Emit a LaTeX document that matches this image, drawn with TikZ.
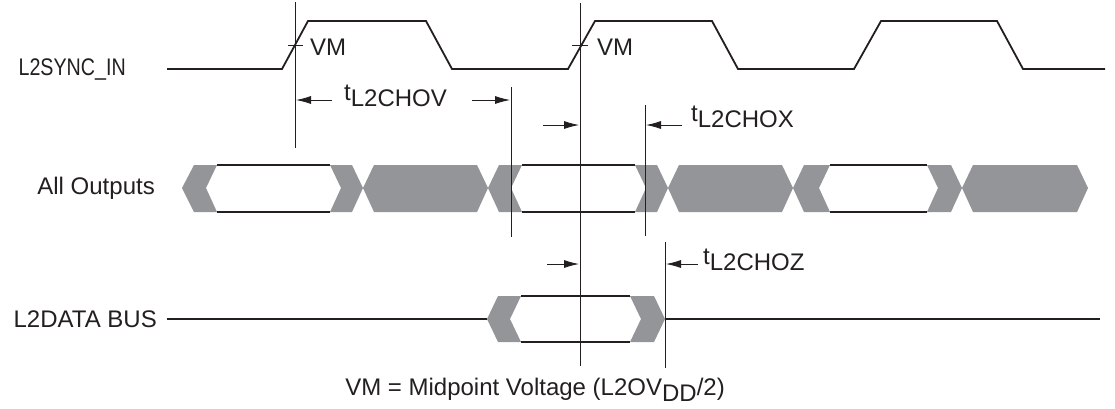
\documentclass[tikz,border=0pt]{standalone}
\usepackage{fontspec}
\setmainfont{Liberation Sans}
\usetikzlibrary{arrows.meta, positioning}
\definecolor{busgray}{RGB}{147,149,152}
\definecolor{ink}{RGB}{35,31,32}
\tikzset{
  sig/.style={draw=ink, line width=1.8pt, line join=miter},
  guide/.style={draw=ink, line width=0.8pt},
  dim/.style={draw=ink, line width=0.8pt, -{Latex[length=15pt,width=8pt]}},
  lbl/.style={font=\fontsize{24}{28}\selectfont, text=ink, inner sep=0pt},
  invalid/.style={fill=busgray, draw=none},
}
\newcommand{\tname}[1]{t\raisebox{-6pt}{#1}}

\begin{document}
\begin{tikzpicture}[x=1pt, y=-1pt]
\useasboundingbox (0,0) rectangle (1115,408);

% labels
\node[lbl, anchor=east] (syncLbl) at (126,70) {\scalebox{0.82}[1]{L2SYNC\_IN}};
\node[lbl, anchor=east] (outLbl) at (155,188) {All Outputs};
\node[lbl, anchor=east] (dataLbl) at (157,319) {L2DATA BUS};

% clock
\draw[sig] (167,69) -- (282,69) -- (308,21) -- (426,21) -- (452,69) -- (568,69)
  -- (595,21) -- (712,21) -- (738,69) -- (854,69) -- (881,21) -- (997,21)
  -- (1023,69) -- (1105,69);

% all outputs
\fill[invalid] (182,188) -- (194,165) -- (217,165) -- (206,188) -- (217,212) -- (194,212) -- cycle;
\fill[invalid] (330,165) -- (352,165) -- (363,188) -- (374,165) -- (477,165) -- (488,188)
  -- (499,165) -- (522,165) -- (511,188) -- (522,212) -- (499,212) -- (488,188)
  -- (477,212) -- (374,212) -- (363,188) -- (352,212) -- (330,212) -- (341,188) -- cycle;
\fill[invalid] (635,165) -- (657,165) -- (668,188) -- (679,165) -- (782,165) -- (793,188)
  -- (804,165) -- (830,165) -- (819,188) -- (830,212) -- (804,212) -- (793,188)
  -- (782,212) -- (679,212) -- (668,188) -- (657,212) -- (635,212) -- (646,188) -- cycle;
\fill[invalid] (927,165) -- (951,165) -- (962,188) -- (973,165) -- (1077,165) -- (1088,188)
  -- (1077,212) -- (973,212) -- (962,188) -- (951,212) -- (927,212) -- (938,188) -- cycle;
\draw[sig] (217,165) -- (330,165) (217,212) -- (330,212);
\draw[sig] (522,165) -- (635,165) (522,212) -- (635,212);
\draw[sig] (830,165) -- (927,165) (830,212) -- (927,212);

% data bus
\fill[invalid] (487,319) -- (498,296) -- (521,296) -- (510,319) -- (521,342) -- (498,342) -- cycle;
\fill[invalid] (630,296) -- (654,296) -- (665,319) -- (654,342) -- (630,342) -- (641,319) -- cycle;
\draw[sig] (167,319) -- (487,319);
\draw[sig] (521,296) -- (630,296) (521,342) -- (630,342);
\draw[sig] (665,319) -- (1100,319);

% guide lines
\draw[guide] (295,2) -- (295,148);
\draw[guide] (511,87) -- (511,237);
\draw[guide] (580,3) -- (580,366);
\draw[guide] (645,105) -- (645,236);
\draw[guide] (665,242) -- (665,368);
\draw[guide] (288,45) -- (303,45);
\draw[guide] (572,45) -- (588,45);

\node[lbl, anchor=west] (vmA) at (310,47) {VM};
\node[lbl, anchor=west] (vmB) at (597,47) {VM};

% timing arrows
\coordinate (hovA) at (332,100);
\coordinate (hovB) at (296,100);
\coordinate (hovC) at (472,100);
\coordinate (hovD) at (510,100);
\draw[dim] (hovA) -- (hovB);
\draw[dim] (hovC) -- (hovD);
\node[lbl, anchor=west] (tchov) at (344,96) {\tname{L2CHOV}};

\coordinate (hoxA) at (543,125);
\coordinate (hoxB) at (579,125);
\coordinate (hoxC) at (682,125);
\coordinate (hoxD) at (646,125);
\draw[dim] (hoxA) -- (hoxB);
\draw[dim] (hoxC) -- (hoxD);
\node[lbl, anchor=west] (tchox) at (691,117) {\tname{L2CHOX}};

\coordinate (hozA) at (547,264);
\coordinate (hozB) at (579,264);
\coordinate (hozC) at (698,264);
\coordinate (hozD) at (666,264);
\draw[dim] (hozA) -- (hozB);
\draw[dim] (hozC) -- (hozD);
\node[lbl, anchor=west] (tchoz) at (703,260) {\tname{L2CHOZ}};

% note
\node[lbl] (note) at (535,390) {VM = Midpoint Voltage (L2OV\raisebox{-6pt}{DD}/2)};
\end{tikzpicture}
\end{document}
